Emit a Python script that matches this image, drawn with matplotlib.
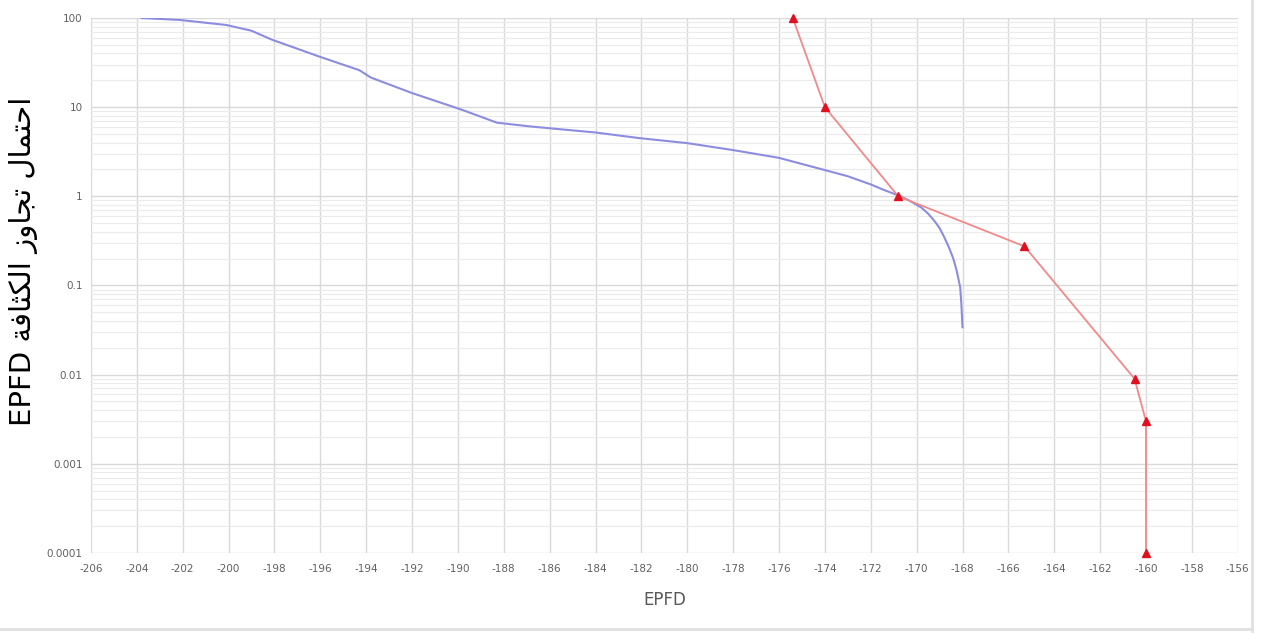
import matplotlib
matplotlib.use("Agg")
import matplotlib.pyplot as plt
from matplotlib.ticker import FixedLocator, FixedFormatter, LogLocator, NullFormatter
from matplotlib.lines import Line2D

plt.rcParams["axes.unicode_minus"] = False

# ---- data ----
blue_x = [-203.8, -202.1, -200.1, -199.0, -198.1, -196.0, -194.3, -193.8, -192.0, -189.8,
          -188.3, -186.9, -186.0, -184.0, -182.1, -180.0, -178.0, -176.0, -174.1, -173.0,
          -172.0, -171.5, -170.7, -170.3, -169.8, -169.5, -169.2, -169.0, -168.8, -168.6,
          -168.4, -168.25, -168.1, -168.05, -168.0]
blue_y = [100, 95, 83.5, 72, 57, 36.6, 26, 21.5, 14.4, 9.3,
          6.7, 6.1, 5.8, 5.2, 4.5, 3.95, 3.3, 2.7, 2.0, 1.68,
          1.36, 1.2, 1.0, 0.89, 0.75, 0.64, 0.52, 0.44, 0.35, 0.27,
          0.2, 0.145, 0.095, 0.062, 0.034]

red_x = [-175.4, -174.0, -170.8, -165.3, -160.5, -160.0, -160.0]
red_y = [100, 10, 1.0, 0.275, 0.009, 0.003, 0.0001]

x_ticks = list(range(-206, -155, 2))
y_ticks = [0.0001, 0.001, 0.01, 0.1, 1, 10, 100]
y_tick_labels = ["0.0001", "0.001", "0.01", "0.1", "1", "10", "100"]

x_label = "EPFD"
y_label_words = ["احتمال", "تجاوز", "الكثافة"]
y_label_latin = "EPFD"

# ---- Arabic shaping (presentation forms) ----
FORMS = {
    "\u0627": ("\uFE8D", "\uFE8E", None, None),
    "\u062D": ("\uFEA1", "\uFEA2", "\uFEA3", "\uFEA4"),
    "\u062A": ("\uFE95", "\uFE96", "\uFE97", "\uFE98"),
    "\u0645": ("\uFEE1", "\uFEE2", "\uFEE3", "\uFEE4"),
    "\u0644": ("\uFEDD", "\uFEDE", "\uFEDF", "\uFEE0"),
    "\u062C": ("\uFE9D", "\uFE9E", "\uFE9F", "\uFEA0"),
    "\u0648": ("\uFEED", "\uFEEE", None, None),
    "\u0632": ("\uFEAF", "\uFEB0", None, None),
    "\u0643": ("\uFED9", "\uFEDA", "\uFEDB", "\uFEDC"),
    "\u062B": ("\uFE99", "\uFE9A", "\uFE9B", "\uFE9C"),
    "\u0641": ("\uFED1", "\uFED2", "\uFED3", "\uFED4"),
    "\u0629": ("\uFE93", "\uFE94", None, None),
}


def shape(word):
    out = []
    n = len(word)
    for i, c in enumerate(word):
        f = FORMS.get(c)
        if f is None:
            out.append(c)
            continue
        prev_join = i > 0 and word[i - 1] in FORMS and FORMS[word[i - 1]][2] is not None
        next_join = f[2] is not None and i < n - 1 and word[i + 1] in FORMS
        if prev_join and next_join:
            out.append(f[3])
        elif prev_join:
            out.append(f[1])
        elif next_join:
            out.append(f[2])
        else:
            out.append(f[0])
    return "".join(reversed(out))


visual_label = y_label_latin + " " + " ".join(shape(w) for w in reversed(y_label_words))

# ---- figure ----
fig = plt.figure(figsize=(12.63, 6.34), dpi=100)
ax = fig.add_axes([0.072, 0.1278, 0.908, 0.8438])

ax.set_yscale("log")
ax.set_xlim(-206, -156)
ax.set_ylim(0.0001, 100)

ax.plot(blue_x, blue_y, color="#8c8ce0", lw=1.5, zorder=3)
ax.plot(red_x, red_y, color="#f08a8a", lw=1.3, zorder=4, clip_on=False)
ax.plot(red_x, red_y, ls="none", marker="^", ms=5.5, color="#e0101e", zorder=5, clip_on=False)

ax.xaxis.set_major_locator(FixedLocator(x_ticks))
ax.yaxis.set_major_locator(FixedLocator(y_ticks))
ax.yaxis.set_major_formatter(FixedFormatter(y_tick_labels))
ax.yaxis.set_minor_locator(LogLocator(base=10, subs=range(2, 10)))
ax.yaxis.set_minor_formatter(NullFormatter())

ax.grid(True, which="major", axis="both", color="#d9d9d9", lw=1.0, zorder=0)
ax.grid(True, which="minor", axis="y", color="#ebebeb", lw=0.8, zorder=0)

for s in ax.spines.values():
    s.set_visible(False)
ax.tick_params(axis="both", which="both", length=0, labelsize=7.5, labelcolor="#606060")
ax.tick_params(axis="x", pad=8)
ax.tick_params(axis="y", pad=6)

ax.set_xlabel(x_label, fontsize=12, color="#595959", labelpad=12)
ax.set_ylabel(visual_label, fontsize=21, color="#000000", family=["DejaVu Sans"])
ax.yaxis.set_label_coords(-0.046, 0.545)

# light frame shadow at right and bottom
fig.add_artist(Line2D([0.991, 0.991], [0.005, 1.0], transform=fig.transFigure, color="#e0e0e0", lw=2))
fig.add_artist(Line2D([0.0, 0.991], [0.008, 0.008], transform=fig.transFigure, color="#e0e0e0", lw=2))

fig.savefig("out.png", dpi=100)
